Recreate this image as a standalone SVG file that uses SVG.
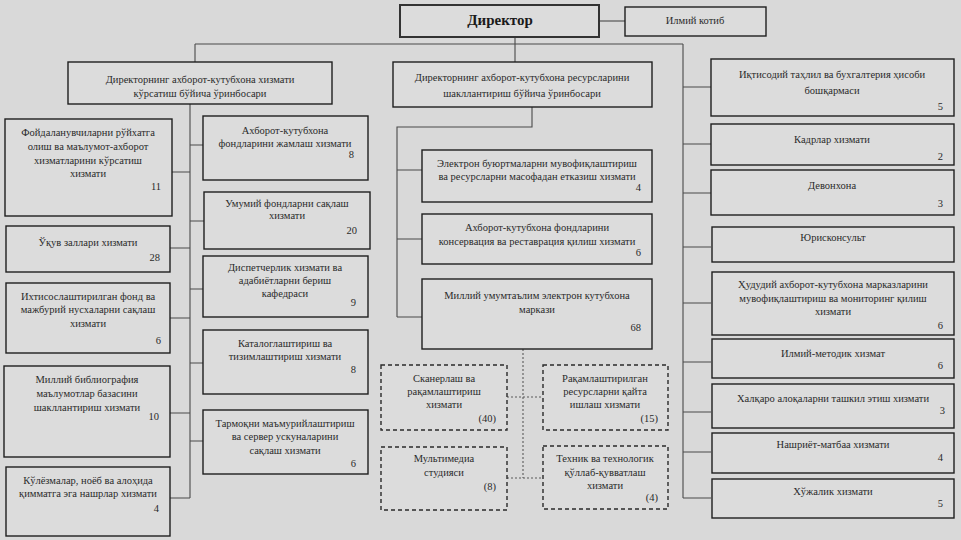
<svg xmlns="http://www.w3.org/2000/svg" width="961" height="540" viewBox="0 0 961 540">
<style>
.bg{fill:#d9d9d9}
.box{fill:#dcdcdc;stroke:#1e1e1e;stroke-width:1.4}
.dbox{fill:#dcdcdc;stroke:#2a2a2a;stroke-width:1.4;stroke-dasharray:4 3}
.ln{fill:none;stroke:#4a4a4a;stroke-width:1.1}
.dl{fill:none;stroke:#5a5a5a;stroke-width:1.1;stroke-dasharray:2 2}
text{font-family:"Liberation Serif","DejaVu Serif",serif;font-size:10.5px;fill:#2a2a2a}
.c{text-anchor:middle}
.n{text-anchor:end}
.t{font-size:15px;font-weight:bold;fill:#1a1a1a}
</style>
<rect class="bg" x="0" y="0" width="961" height="540"/>
<g id="connectors">
<path class="ln" d="M599,21 H625"/>
<path class="ln" d="M515,37 V44 M195,44 H683 M195,44 V62 M515,44 V62"/>
<path class="ln" d="M683,44 V498 M683,87 H711 M683,144 H711 M683,193 H711 M683,247 H711 M683,303 H711 M683,362 H711 M683,412 H711 M683,452 H711 M683,498 H711"/>
<path class="ln" d="M190,104 V498 M172,172 H190 M170,248 H190 M170,318 H190 M170,413 H190 M170,498 H190"/>
<path class="ln" d="M190,145 H203 M190,221 H204 M190,289 H203 M190,363 H203 M190,441 H203"/>
<path class="ln" d="M532,107 V127 H397 V317 M397,170 H422 M397,239 H422 M397,317 H422"/>
<path class="dl" d="M523,349 V478 M507,397 H543 M507,478 H543"/>
</g>
<g id="director"><rect x="400" y="5" width="199" height="32" fill="#dcdcdc" stroke="#333" stroke-width="2"/><text class="c t" x="500" y="25">Директор</text></g>
<g id="ilmiy-kotib"><rect class="box" x="625" y="7" width="141" height="29"/><text class="c" x="695" y="24">Илмий котиб</text></g>
<g id="deputy-service"><rect class="box" x="68" y="62" width="264" height="42"/><text class="c" x="200" y="83">Директорнинг ахборот-кутубхона хизмати</text><text class="c" x="200" y="97">кўрсатиш бўйича ўринбосари</text></g>
<g id="deputy-resources"><rect class="box" x="393" y="62" width="259" height="45"/><text class="c" x="522" y="81">Директорнинг ахборот-кутубхона ресурсларини</text><text class="c" x="522" y="97">шакллантириш бўйича ўринбосари</text></g>
<g id="l1"><rect class="box" x="5" y="119" width="167" height="97"/><text class="c" x="88" y="136">Фойдаланувчиларни рўйхатга</text><text class="c" x="88" y="150">олиш ва маълумот-ахборот</text><text class="c" x="88" y="164">хизматларини кўрсатиш</text><text class="c" x="88" y="177">хизмати</text><text class="n" x="161" y="190">11</text></g>
<g id="l2"><rect class="box" x="6" y="226" width="164" height="46"/><text class="c" x="88" y="246">Ўқув заллари хизмати</text><text class="n" x="160" y="261">28</text></g>
<g id="l3"><rect class="box" x="6" y="283" width="164" height="70"/><text class="c" x="88" y="300">Ихтисослаштирилган фонд ва</text><text class="c" x="88" y="313">мажбурий нусхаларни сақлаш</text><text class="c" x="88" y="327">хизмати</text><text class="n" x="161" y="344">6</text></g>
<g id="l4"><rect class="box" x="4" y="366" width="166" height="91"/><text class="c" x="87" y="383">Миллий библиография</text><text class="c" x="87" y="397">маълумотлар базасини</text><text class="c" x="87" y="411">шакллантириш хизмати</text><text class="n" x="159" y="420">10</text></g>
<g id="l5"><rect class="box" x="6" y="467" width="164" height="69"/><text class="c" x="88" y="484">Кўлёзмалар, ноёб ва алоҳида</text><text class="c" x="88" y="497">қимматга эга нашрлар хизмати</text><text class="n" x="159" y="512">4</text></g>
<g id="m1"><rect class="box" x="203" y="116" width="165" height="64"/><text class="c" x="285" y="134">Ахборот-кутубхона</text><text class="c" x="285" y="147">фондларини жамлаш хизмати</text><text class="n" x="354" y="158">8</text></g>
<g id="m2"><rect class="box" x="204" y="192" width="166" height="57"/><text class="c" x="287" y="207">Умумий фондларни сақлаш</text><text class="c" x="287" y="219">хизмати</text><text class="n" x="357" y="234">20</text></g>
<g id="m3"><rect class="box" x="203" y="256" width="165" height="61"/><text class="c" x="285" y="271">Диспетчерлик хизмати ва</text><text class="c" x="285" y="284">адабиётларни бериш</text><text class="c" x="285" y="297">кафедраси</text><text class="n" x="356" y="306">9</text></g>
<g id="m4"><rect class="box" x="203" y="330" width="165" height="64"/><text class="c" x="285" y="347">Каталоглаштириш ва</text><text class="c" x="285" y="360">тизимлаштириш хизмати</text><text class="n" x="356" y="373">8</text></g>
<g id="m5"><rect class="box" x="203" y="410" width="165" height="64"/><text class="c" x="285" y="427">Тармоқни маъмурийлаштириш</text><text class="c" x="285" y="440">ва сервер ускуналарини</text><text class="c" x="285" y="454">сақлаш хизмати</text><text class="n" x="356" y="467">6</text></g>
<g id="c1"><rect class="box" x="422" y="150" width="230" height="52"/><text class="c" x="537" y="167">Электрон буюртмаларни мувофиқлаштириш</text><text class="c" x="537" y="180">ва ресурсларни масофадан етказиш хизмати</text><text class="n" x="641" y="191">4</text></g>
<g id="c2"><rect class="box" x="422" y="214" width="230" height="50"/><text class="c" x="537" y="231">Ахборот-кутубхона фондларини</text><text class="c" x="537" y="245">консервация ва реставрация қилиш хизмати</text><text class="n" x="641" y="256">6</text></g>
<g id="c3"><rect class="box" x="422" y="279" width="230" height="70"/><text class="c" x="537" y="299">Миллий умумтаълим электрон кутубхона</text><text class="c" x="537" y="313">маркази</text><text class="n" x="641" y="331">68</text></g>
<g id="d1"><rect class="dbox" x="381" y="365" width="126" height="65"/><text class="c" x="444" y="382">Сканерлаш ва</text><text class="c" x="444" y="395">рақамлаштириш</text><text class="c" x="444" y="408">хизмати</text><text class="n" x="496" y="422">(40)</text></g>
<g id="d2"><rect class="dbox" x="543" y="365" width="125" height="65"/><text class="c" x="605" y="382">Рақамлаштирилган</text><text class="c" x="605" y="395">ресурсларни қайта</text><text class="c" x="605" y="408">ишлаш хизмати</text><text class="n" x="658" y="422">(15)</text></g>
<g id="d3"><rect class="dbox" x="381" y="447" width="126" height="63"/><text class="c" x="444" y="462">Мультимедиа</text><text class="c" x="444" y="476">студияси</text><text class="n" x="496" y="490">(8)</text></g>
<g id="d4"><rect class="dbox" x="543" y="446" width="125" height="63"/><text class="c" x="605" y="462">Техник ва технологик</text><text class="c" x="605" y="476">қўллаб-қувватлаш</text><text class="c" x="605" y="489">хизмати</text><text class="n" x="658" y="501">(4)</text></g>
<g id="r1"><rect class="box" x="711" y="59" width="243" height="57"/><text class="c" x="832" y="78">Иқтисодий таҳлил ва бухгалтерия ҳисоби</text><text class="c" x="832" y="94">бошқармаси</text><text class="n" x="943" y="110">5</text></g>
<g id="r2"><rect class="box" x="711" y="124" width="243" height="41"/><text class="c" x="832" y="143">Кадрлар хизмати</text><text class="n" x="943" y="160">2</text></g>
<g id="r3"><rect class="box" x="711" y="170" width="243" height="45"/><text class="c" x="832" y="189">Девонхона</text><text class="n" x="943" y="207">3</text></g>
<g id="r4"><rect class="box" x="712" y="227" width="242" height="35"/><text class="c" x="833" y="241">Юрисконсульт</text></g>
<g id="r5"><rect class="box" x="712" y="272" width="242" height="63"/><text class="c" x="833" y="288">Ҳудудий ахборот-кутубхона марказларини</text><text class="c" x="833" y="302">мувофиқлаштириш ва мониторинг қилиш</text><text class="c" x="833" y="315">хизмати</text><text class="n" x="943" y="329">6</text></g>
<g id="r6"><rect class="box" x="712" y="339" width="242" height="39"/><text class="c" x="833" y="357">Илмий-методик хизмат</text><text class="n" x="943" y="369">6</text></g>
<g id="r7"><rect class="box" x="712" y="384" width="242" height="44"/><text class="c" x="833" y="402">Халқаро алоқаларни ташкил этиш хизмати</text><text class="n" x="945" y="414">3</text></g>
<g id="r8"><rect class="box" x="712" y="433" width="242" height="40"/><text class="c" x="833" y="448">Нашриёт-матбаа хизмати</text><text class="n" x="943" y="461">4</text></g>
<g id="r9"><rect class="box" x="712" y="479" width="242" height="39"/><text class="c" x="833" y="495">Хўжалик хизмати</text><text class="n" x="943" y="507">5</text></g>
</svg>
